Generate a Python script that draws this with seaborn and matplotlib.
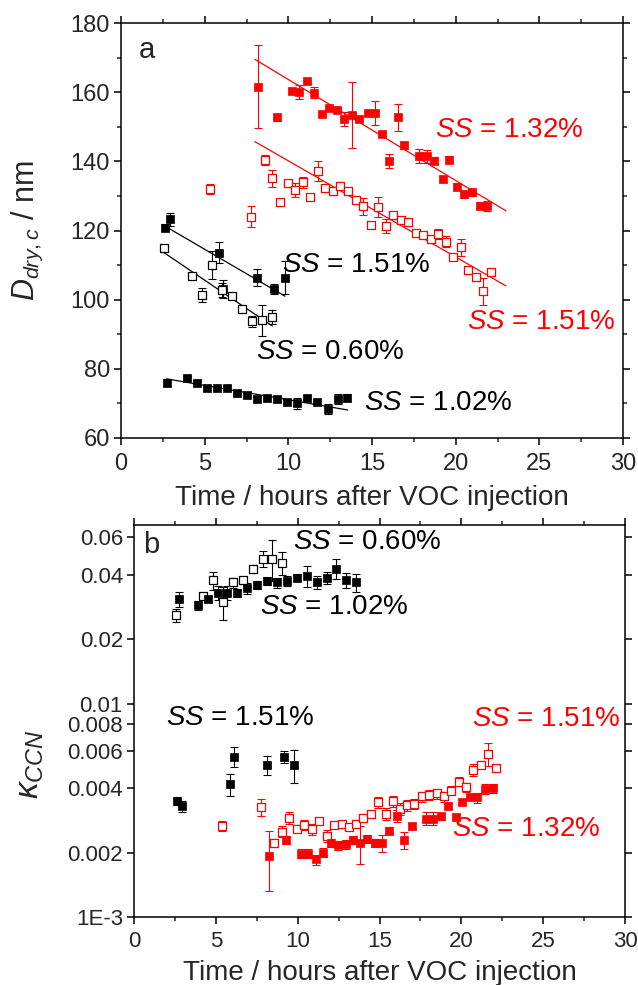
import numpy as np
import pandas as pd
import matplotlib
matplotlib.use("Agg")
import matplotlib.pyplot as plt
import seaborn as sns
from matplotlib.ticker import FixedLocator, MultipleLocator, NullLocator, FixedFormatter

# ---------------- Panel a : D_dry,c (nm) ----------------
a_red_filled_t = [8.21, 9.31, 10.2, 10.64, 11.1, 11.55, 12.0, 12.45, 12.89, 13.35, 13.79, 14.25, 14.78, 15.18,
                  15.62, 16.04, 16.54, 16.93, 17.83, 18.27, 18.73, 19.23, 19.62, 20.06, 20.52, 20.96, 21.46, 21.86]
a_red_filled_D = [161.6, 152.7, 160.3, 160.1, 163.1, 159.9, 153.7, 155.5, 154.9, 152.2, 153.4, 152.1, 153.9, 153.9,
                  147.9, 140.2, 152.7, 144.7, 141.5, 141.4, 140.2, 134.9, 140.4, 132.7, 130.5, 131.1, 127.1, 127.1]
a_red_filled_e = [12, 1, 0.5, 2, 0.5, 1.5, 0.5, 0.5, 0.5, 2, 9.5, 0.5, 0.5, 3.5,
                  0.5, 2, 3.8, 1, 2, 2, 1, 1, 1, 1, 1, 1, 1, 1.5]

a_red_open_t = [5.32, 7.75, 8.61, 9.04, 9.5, 9.96, 10.4, 10.86, 11.3, 11.76, 12.19, 12.65, 13.09, 13.55, 14.05,
                14.48, 14.92, 15.38, 15.84, 16.24, 16.71, 17.17, 17.63, 18.03, 18.51, 18.97, 19.43, 19.87, 20.32,
                20.76, 21.22, 21.66, 22.12]
a_red_open_D = [132.0, 124.0, 140.4, 135.1, 128.2, 133.6, 131.7, 133.9, 129.8, 137.2, 132.2, 131.3, 133.0, 131.3, 128.8,
                127.0, 121.6, 126.8, 121.3, 124.5, 123.0, 122.4, 119.2, 118.7, 117.4, 119.0, 116.8, 112.4, 115.1,
                108.5, 106.5, 102.4, 107.9]
a_red_open_e = [1.5, 3, 1.5, 2.5, 1, 1, 2, 1.5, 0.8, 3, 0.8, 1, 1, 1, 1,
                2.5, 0.8, 3, 2, 1, 1, 0.8, 1, 1, 1, 1.5, 1.5, 0.8, 2.5,
                1, 1, 4, 0.8]

a_blk151_t = [2.63, 2.93, 5.86, 6.12, 8.11, 9.15, 9.8]
a_blk151_D = [120.8, 123.2, 113.6, 103.1, 106.4, 103.1, 106.4]
a_blk151_e = [1, 2, 3, 2.5, 2.5, 1.5, 4.7]

a_blk060_t = [2.57, 4.22, 4.86, 5.42, 6.02, 6.66, 7.25, 7.85, 8.45, 9.04]
a_blk060_D = [115.0, 106.9, 101.3, 110.0, 102.7, 101.0, 97.3, 93.7, 94.0, 95.0]
a_blk060_e = [0.5, 0.5, 2, 4, 2, 0.5, 0.5, 1.5, 4.5, 2]

a_blk102_t = [2.73, 3.93, 4.52, 5.12, 5.72, 6.32, 6.92, 7.51, 8.11, 8.71, 9.31, 9.94, 10.54, 11.14, 11.73,
              12.35, 12.95, 13.53]
a_blk102_D = [76.0, 77.4, 76.0, 74.5, 74.4, 74.4, 73.1, 72.4, 71.3, 71.7, 71.3, 70.5, 70.0, 71.7, 70.3,
              68.4, 71.3, 71.7]
a_blk102_e = [1, 0.5, 0.5, 0.5, 0.5, 0.5, 0.5, 0.5, 0.5, 0.5, 0.5, 0.5, 1.5, 0.5, 0.5, 1.5, 1.5, 1]

# linear fit lines (end points)
fit_red_filled_t, fit_red_filled_D = [8.0, 23.0], [169.5, 125.7]
fit_red_open_t, fit_red_open_D = [8.0, 23.0], [145.7, 104.0]
fit_blk151_t, fit_blk151_D = [2.83, 9.8], [120.7, 101.0]
fit_blk060_t, fit_blk060_D = [2.57, 9.04], [113.6, 92.4]
fit_blk102_t, fit_blk102_D = [2.73, 13.55], [77.1, 68.1]

# ---------------- Panel b : kappa_CCN ----------------
b_blk060_t = [2.57, 4.2, 4.85, 5.42, 6.03, 6.64, 7.25, 7.86, 8.45, 9.06]
b_blk060_k = [0.0259, 0.0318, 0.0377, 0.0299, 0.0369, 0.0377, 0.0428, 0.0477, 0.0477, 0.0456]
b_blk060_e = [0.0019, 0.001, 0.0037, 0.0052, 0.002, 0.0015, 0.0019, 0.0042, 0.0104, 0.0055]

b_blk102_t = [2.77, 3.93, 4.54, 5.15, 5.7, 6.31, 6.92, 7.53, 8.14, 8.75, 9.33, 9.94, 10.55, 11.16, 11.77,
              12.34, 12.95, 13.56]
b_blk102_k = [0.0308, 0.0288, 0.0308, 0.0330, 0.0330, 0.0330, 0.0347, 0.0358, 0.0375, 0.0369, 0.0375, 0.0389,
              0.0396, 0.0369, 0.0389, 0.0428, 0.0377, 0.0369]
b_blk102_e = [0.0025, 0.0015, 0.001, 0.0025, 0.0025, 0.0015, 0.002, 0.0015, 0.0015, 0.002, 0.002, 0.0015,
              0.0045, 0.0025, 0.0025, 0.0045, 0.003, 0.0035]

b_blk151_t = [2.65, 2.95, 5.86, 6.13, 8.11, 9.16, 9.77]
b_blk151_k = [0.00351, 0.00330, 0.00420, 0.00563, 0.00515, 0.00563, 0.00515]
b_blk151_e = [0.00015, 0.0002, 0.0005, 0.0006, 0.0005, 0.00035, 0.0009]

b_red_open_t = [5.36, 7.74, 8.57, 9.06, 9.49, 9.98, 10.39, 10.86, 11.32, 11.77, 12.22, 12.69, 13.13, 13.56,
                14.01, 14.46, 14.89, 15.37, 15.8, 16.25, 16.7, 17.12, 17.57, 18.04, 18.49, 18.94, 19.36, 19.85,
                20.28, 20.73, 21.18, 21.64, 22.09]
b_red_open_k = [0.00267, 0.00326, 0.00223, 0.00251, 0.00292, 0.00259, 0.00270, 0.00258, 0.00282, 0.00240,
                0.00270, 0.00272, 0.00265, 0.00274, 0.00292, 0.00304, 0.00344, 0.00305, 0.00348, 0.00321,
                0.00335, 0.00339, 0.00367, 0.00372, 0.00379, 0.00367, 0.00391, 0.00431, 0.00405, 0.00489,
                0.00517, 0.00581, 0.00497]
b_red_open_e = [0.00015, 0.0003, 0.0001, 0.00015, 0.0002, 0.0001, 0.00015, 0.00015, 0.0001, 0.00015,
                0.0001, 0.0001, 0.0001, 0.0001, 0.0001, 0.0001, 0.0002, 0.0002, 0.0002, 0.0002,
                0.0002, 0.0002, 0.0002, 0.0002, 0.0002, 0.0002, 0.0002, 0.0002, 0.0002, 0.0003,
                0.0002, 0.0007, 0.0002]

b_red_filled_t = [8.25, 9.29, 10.18, 10.65, 11.1, 11.57, 12.02, 12.48, 12.93, 13.36, 13.8, 14.25, 14.72, 15.17,
                  15.6, 16.05, 16.51, 16.96, 17.82, 18.29, 18.74, 19.2, 19.65, 20.07, 20.53, 20.97, 21.44, 21.91]
b_red_filled_k = [0.00193, 0.00230, 0.00198, 0.00198, 0.00186, 0.00200, 0.00223, 0.00217, 0.00219, 0.00230,
                  0.00222, 0.00232, 0.00222, 0.00222, 0.00254, 0.00298, 0.00229, 0.00267, 0.00289, 0.00289,
                  0.00296, 0.00332, 0.00295, 0.00347, 0.00363, 0.00363, 0.00398, 0.00401]
b_red_filled_e = [0.0006, 0.0001, 0.0001, 0.0001, 0.0001, 0.0001, 0.0001, 0.0001, 0.0001, 0.0001,
                  0.00045, 0.0001, 0.0001, 0.0002, 0.0001, 0.0002, 0.0002, 0.0001, 0.0002, 0.0002,
                  0.0001, 0.0001, 0.0001, 0.0001, 0.0001, 0.0002, 0.0002, 0.0002]

b_ytick_vals = [0.001, 0.002, 0.004, 0.006, 0.008, 0.01, 0.02, 0.04, 0.06]
b_ytick_labels = ["1E-3", "0.002", "0.004", "0.006", "0.008", "0.01", "0.02", "0.04", "0.06"]

RED = "#ff0000"
BLACK = "#000000"

sns.set_style("ticks")
plt.rcParams['font.family'] = ['Liberation Sans', 'DejaVu Sans']
plt.rcParams['mathtext.fontset'] = 'custom'
plt.rcParams['mathtext.rm'] = 'Liberation Sans'
plt.rcParams['mathtext.it'] = 'Liberation Sans:italic'
plt.rcParams['mathtext.bf'] = 'Liberation Sans:bold'
plt.rcParams['axes.linewidth'] = 1.1
plt.rcParams['axes.edgecolor'] = 'black'

fig = plt.figure(figsize=(6.38, 9.85), dpi=100)
axA = fig.add_axes([121/638, 1-438/985, 502/638, 415/985])
axB = fig.add_axes([134/638, 1-917/985, 491/638, 392/985])


def draw_series(ax, t, y, err, color, filled):
    ax.errorbar(t, y, yerr=err, fmt='none', ecolor=color, elinewidth=0.8,
                capsize=2.6, capthick=0.8, zorder=2)
    df = pd.DataFrame({'t': t, 'y': y})
    sns.scatterplot(data=df, x='t', y='y', ax=ax, marker='s', s=36,
                    color=(color if filled else 'white'), edgecolor=color,
                    linewidth=(0.5 if filled else 0.9), zorder=3, legend=False)


def draw_fit(ax, t, y, color):
    sns.lineplot(x=t, y=y, ax=ax, color=color, linewidth=0.9, zorder=1)


# ----- panel a -----
draw_fit(axA, fit_red_filled_t, fit_red_filled_D, RED)
draw_fit(axA, fit_red_open_t, fit_red_open_D, RED)
draw_fit(axA, fit_blk151_t, fit_blk151_D, BLACK)
draw_fit(axA, fit_blk060_t, fit_blk060_D, BLACK)
draw_fit(axA, fit_blk102_t, fit_blk102_D, BLACK)
draw_series(axA, a_red_filled_t, a_red_filled_D, a_red_filled_e, RED, True)
draw_series(axA, a_red_open_t, a_red_open_D, a_red_open_e, RED, False)
draw_series(axA, a_blk151_t, a_blk151_D, a_blk151_e, BLACK, True)
draw_series(axA, a_blk060_t, a_blk060_D, a_blk060_e, BLACK, False)
draw_series(axA, a_blk102_t, a_blk102_D, a_blk102_e, BLACK, True)

axA.set_xlim(0, 30)
axA.set_ylim(60, 180)
axA.xaxis.set_major_locator(MultipleLocator(5))
axA.xaxis.set_minor_locator(MultipleLocator(2.5))
axA.yaxis.set_major_locator(MultipleLocator(20))
axA.yaxis.set_minor_locator(MultipleLocator(10))
axA.set_xlabel("Time / hours after VOC injection", fontsize=20, labelpad=7)
axA.set_ylabel("$D_{dry,c}$ / nm", fontsize=22)
axA.yaxis.set_label_coords(-0.152, 0.5)

TS = 20
axA.text(18.77, 149.1, "$SS$ = 1.32%", color=RED, fontsize=TS, va='center', ha='left')
axA.text(9.62, 110.0, "$SS$ = 1.51%", color=BLACK, fontsize=TS, va='center', ha='left')
axA.text(20.68, 93.5, "$SS$ = 1.51%", color=RED, fontsize=TS, va='center', ha='left')
axA.text(8.07, 84.9, "$SS$ = 0.60%", color=BLACK, fontsize=TS, va='center', ha='left')
axA.text(14.52, 70.1, "$SS$ = 1.02%", color=BLACK, fontsize=TS, va='center', ha='left')
axA.text(0.035, 0.935, "a", transform=axA.transAxes, fontsize=21, va='center', ha='left')

# ----- panel b -----
draw_series(axB, b_blk060_t, b_blk060_k, b_blk060_e, BLACK, False)
draw_series(axB, b_blk102_t, b_blk102_k, b_blk102_e, BLACK, True)
draw_series(axB, b_blk151_t, b_blk151_k, b_blk151_e, BLACK, True)
draw_series(axB, b_red_open_t, b_red_open_k, b_red_open_e, RED, False)
draw_series(axB, b_red_filled_t, b_red_filled_k, b_red_filled_e, RED, True)

axB.set_yscale('log')
axB.set_xlim(0, 30)
axB.set_ylim(0.001, 0.0686)
axB.xaxis.set_major_locator(MultipleLocator(5))
axB.xaxis.set_minor_locator(MultipleLocator(2.5))
axB.yaxis.set_major_locator(FixedLocator(b_ytick_vals))
axB.yaxis.set_major_formatter(FixedFormatter(b_ytick_labels))
axB.yaxis.set_minor_locator(NullLocator())
axB.set_xlabel("Time / hours after VOC injection", fontsize=20, labelpad=6)
axB.set_ylabel("$\\kappa_{CCN}$", fontsize=24)
axB.yaxis.set_label_coords(-0.18, 0.39)

axB.text(9.71, 0.0571, "$SS$ = 0.60%", color=BLACK, fontsize=TS, va='center', ha='left')
axB.text(7.7, 0.0283, "$SS$ = 1.02%", color=BLACK, fontsize=TS, va='center', ha='left')
axB.text(1.94, 0.00857, "$SS$ = 1.51%", color=BLACK, fontsize=TS, va='center', ha='left')
axB.text(20.63, 0.00848, "$SS$ = 1.51%", color=RED, fontsize=TS, va='center', ha='left')
axB.text(19.4, 0.00258, "$SS$ = 1.32%", color=RED, fontsize=TS, va='center', ha='left')
axB.text(0.018, 0.949, "b", transform=axB.transAxes, fontsize=21, va='center', ha='left')

for ax, fs in ((axA, 17), (axB, 16)):
    for s in ax.spines.values():
        s.set_visible(True)
        s.set_linewidth(1.1)
    ax.tick_params(axis='both', which='major', direction='out', length=5, width=1.1,
                   labelsize=fs, top=True, right=True, color='black')
    ax.tick_params(axis='both', which='minor', direction='out', length=3, width=1.1,
                   top=True, right=True)
    ax.tick_params(axis='y', which='major', pad=3)

axA.tick_params(axis='x', which='major', pad=6)
axB.tick_params(axis='x', which='major', pad=5, labelsize=16)

fig.savefig("out.png", dpi=100)
